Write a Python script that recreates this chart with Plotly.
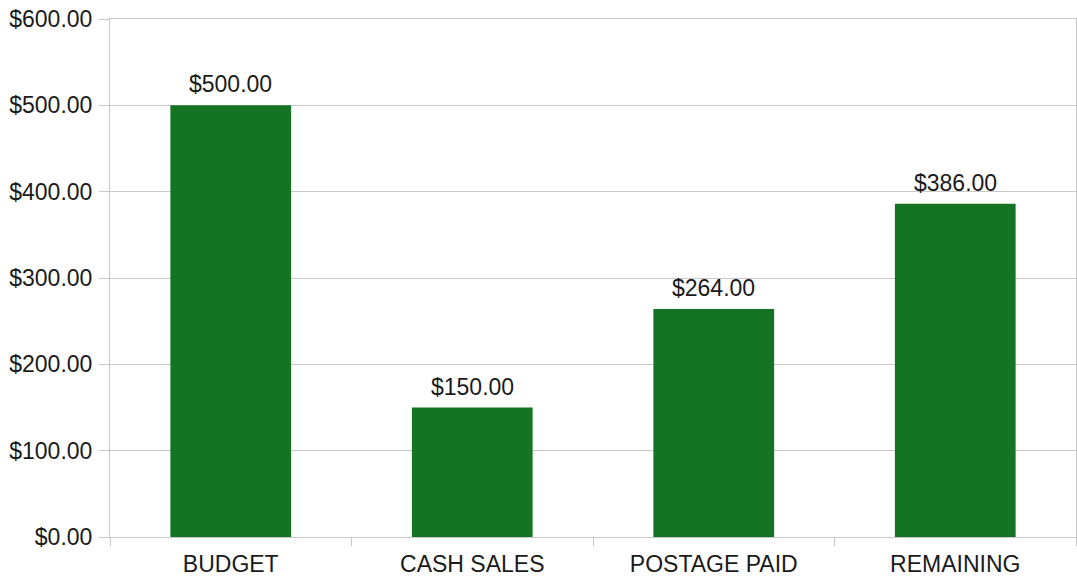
import plotly.graph_objects as go

categories = ["BUDGET", "CASH SALES", "POSTAGE PAID", "REMAINING"]
values = [500, 150, 264, 386]
y_ticks = [0, 100, 200, 300, 400, 500, 600]

grid = "#c8c8c8"
font_family = "Liberation Sans, Arial, sans-serif"
fig = go.Figure(go.Bar(
    x=categories, y=values,
    marker=dict(color="#157424", line=dict(width=0)),
    width=0.5,
))
for c, v in zip(categories, values):
    fig.add_annotation(x=c, y=v, text=f"${v:,.2f}", showarrow=False,
                       yanchor="bottom", yshift=6,
                       font=dict(family=font_family, size=23, color="#1a1a1a"))
fig.update_layout(
    width=1077, height=578,
    margin=dict(l=110, r=1, t=19, b=41),
    paper_bgcolor="white", plot_bgcolor="white",
    font=dict(family=font_family, size=23, color="#1a1a1a"),
    showlegend=False,
)
fig.update_yaxes(
    range=[0, 600], tickvals=y_ticks,
    ticktext=[f"${v:,.2f}" for v in y_ticks],
    showgrid=True, gridcolor=grid, gridwidth=1,
    ticks="outside", ticklen=10, tickcolor=grid,
    showline=True, linecolor=grid, mirror=True,
    zeroline=False, ticklabelstandoff=2, automargin=False,
)
fig.update_xaxes(
    tickson="boundaries", ticks="outside", ticklen=8, tickcolor=grid,
    showline=True, linecolor=grid, mirror=True, showgrid=False,
    ticklabelstandoff=6, automargin=False,
)
fig.write_html("out.html")
